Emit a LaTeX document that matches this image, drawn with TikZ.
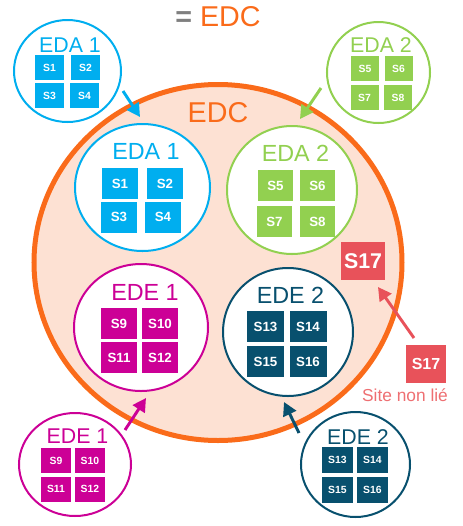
\documentclass[tikz,border=0pt]{standalone}
\usepackage{fontspec}
\setmainfont{Liberation Sans}
\usetikzlibrary{shapes.geometric,arrows.meta}
\definecolor{cblue}{HTML}{00AEEF}
\definecolor{cgreen}{HTML}{92D050}
\definecolor{cmag}{HTML}{CC0096}
\definecolor{cteal}{HTML}{08506E}
\definecolor{corange}{HTML}{FA6B1A}
\definecolor{cpeach}{HTML}{FDE1D3}
\definecolor{cred}{HTML}{E8525A}
\definecolor{clightred}{HTML}{EE6F72}
\definecolor{cgray}{HTML}{7F7F7F}
\newcommand{\fs}[1]{\fontsize{#1}{#1}\selectfont}
\begin{document}
\begin{tikzpicture}[x=0.75pt,y=-0.75pt,
  ring/.style={ellipse, inner sep=0, line width=1.5pt, fill=white},
  sqbig/.style={rectangle, inner sep=0, text=white, font=\bfseries\fs{10}, minimum width=36*0.75pt, minimum height=31*0.75pt},
  sqsmall/.style={rectangle, inner sep=0, text=white, font=\bfseries\fs{7.8}, minimum width=29*0.75pt, minimum height=25*0.75pt},
  lblbig/.style={inner sep=0, font=\fs{17.5}},
  lblsmall/.style={inner sep=0, font=\fs{16}},
  arr/.style={line width=2.2pt, -{Triangle[length=10pt,width=10.5pt]}}]
\useasboundingbox (0,0) rectangle (462,526);

% title
\node[inner sep=0, font=\fs{21.5}, text=corange] (title) at (218,17) {{\color{cgray}\bfseries =} EDC};

% big EDC ellipse
\node[ellipse, inner sep=0, draw=corange, line width=3.75pt, fill=cpeach,
      minimum width=368*0.75pt, minimum height=356*0.75pt] (edc) at (218,262.5) {};
\node[inner sep=0, font=\fs{21.5}, text=corange] (edclbl) at (218,113) {EDC};

% inner EDA 1
\node[ring, draw=cblue, minimum width=135*0.75pt, minimum height=127*0.75pt] (ia1) at (142.5,187.5) {};
\node[lblbig, text=cblue] (ia1l) at (146,151) {EDA 1};
\node[sqbig, fill=cblue] (ia1s1) at (120,183.5) {S1};
\node[sqbig, fill=cblue] (ia1s2) at (165,183.5) {S2};
\node[sqbig, fill=cblue] (ia1s3) at (119,217) {S3};
\node[sqbig, fill=cblue] (ia1s4) at (163,217) {S4};

% inner EDA 2
\node[ring, draw=cgreen, minimum width=130*0.75pt, minimum height=128*0.75pt] (ia2) at (292,190) {};
\node[lblbig, text=cgreen] (ia2l) at (295.5,153) {EDA 2};
\node[sqbig, fill=cgreen, minimum width=35*0.75pt] (ia2s5) at (275.5,185.5) {S5};
\node[sqbig, fill=cgreen, minimum width=35*0.75pt] (ia2s6) at (317.5,185.5) {S6};
\node[sqbig, fill=cgreen, minimum width=35*0.75pt] (ia2s7) at (274.5,221.5) {S7};
\node[sqbig, fill=cgreen, minimum width=35*0.75pt] (ia2s8) at (317.5,221.5) {S8};

% inner EDE 1
\node[ring, draw=cmag, minimum width=134*0.75pt, minimum height=127*0.75pt] (ie1) at (141,327.5) {};
\node[lblbig, text=cmag] (ie1l) at (145,292) {EDE 1};
\node[sqbig, fill=cmag] (ie1s9) at (119,323.5) {S9};
\node[sqbig, fill=cmag] (ie1s10) at (160,323.5) {S10};
\node[sqbig, fill=cmag] (ie1s11) at (119,357.5) {S11};
\node[sqbig, fill=cmag] (ie1s12) at (160,357.5) {S12};

% inner EDE 2
\node[ring, draw=cteal, minimum width=130*0.75pt, minimum height=128*0.75pt] (ie2) at (288,332) {};
\node[lblbig, text=cteal] (ie2l) at (290.5,295) {EDE 2};
\node[sqbig, fill=cteal, minimum width=37*0.75pt] (ie2s13) at (265.5,326.5) {S13};
\node[sqbig, fill=cteal, minimum width=37*0.75pt] (ie2s14) at (308,326.5) {S14};
\node[sqbig, fill=cteal, minimum width=37*0.75pt] (ie2s15) at (265.5,361.5) {S15};
\node[sqbig, fill=cteal, minimum width=37*0.75pt] (ie2s16) at (308,361.5) {S16};

% S17 inside
\node[rectangle, inner sep=0, fill=cred, text=white, font=\bfseries\fs{16},
      minimum width=44*0.75pt, minimum height=38*0.75pt] (s17in) at (363,261) {S17};

% small EDA 1
\node[ring, draw=cblue, minimum width=107*0.75pt, minimum height=102*0.75pt] (sa1) at (67.5,71) {};
\node[lblsmall, text=cblue] (sa1l) at (70,45) {EDA 1};
\node[sqsmall, fill=cblue] (sa1s1) at (49.5,67.5) {S1};
\node[sqsmall, fill=cblue] (sa1s2) at (85.5,67.5) {S2};
\node[sqsmall, fill=cblue] (sa1s3) at (49.5,95.5) {S3};
\node[sqsmall, fill=cblue] (sa1s4) at (84.5,95.5) {S4};

% small EDA 2
\node[ring, draw=cgreen, minimum width=103*0.75pt, minimum height=101*0.75pt] (sa2) at (378.5,72.5) {};
\node[lblsmall, text=cgreen] (sa2l) at (381,45) {EDA 2};
\node[sqsmall, fill=cgreen, minimum width=28*0.75pt] (sa2s5) at (365,68.5) {S5};
\node[sqsmall, fill=cgreen, minimum width=28*0.75pt] (sa2s6) at (398.5,68.5) {S6};
\node[sqsmall, fill=cgreen, minimum width=28*0.75pt] (sa2s7) at (364.5,97.5) {S7};
\node[sqsmall, fill=cgreen, minimum width=28*0.75pt] (sa2s8) at (398,97.5) {S8};

% small EDE 1
\node[ring, draw=cmag, minimum width=112*0.75pt, minimum height=103*0.75pt] (se1) at (75,464.5) {};
\node[lblsmall, text=cmag] (se1l) at (77.5,436) {EDE 1};
\node[sqsmall, fill=cmag, minimum width=30*0.75pt] (se1s9) at (56,460.5) {S9};
\node[sqsmall, fill=cmag, minimum width=30*0.75pt] (se1s10) at (90,460.5) {S10};
\node[sqsmall, fill=cmag, minimum width=30*0.75pt] (se1s11) at (56,489) {S11};
\node[sqsmall, fill=cmag, minimum width=30*0.75pt] (se1s12) at (90,489) {S12};

% small EDE 2
\node[ring, draw=cteal, minimum width=109*0.75pt, minimum height=105*0.75pt] (se2) at (355.5,464.5) {};
\node[lblsmall, text=cteal] (se2l) at (358,437) {EDE 2};
\node[sqsmall, fill=cteal, minimum width=31*0.75pt, minimum height=26*0.75pt] (se2s13) at (337.5,460) {S13};
\node[sqsmall, fill=cteal, minimum width=31*0.75pt, minimum height=26*0.75pt] (se2s14) at (372.5,460) {S14};
\node[sqsmall, fill=cteal, minimum width=31*0.75pt, minimum height=26*0.75pt] (se2s15) at (337.5,489.5) {S15};
\node[sqsmall, fill=cteal, minimum width=31*0.75pt, minimum height=26*0.75pt] (se2s16) at (372.5,489.5) {S16};

% S17 outside
\node[rectangle, inner sep=0, fill=cred, text=white, font=\bfseries\fs{12},
      minimum width=40*0.75pt, minimum height=38*0.75pt] (s17out) at (426,364) {S17};
\node[inner sep=0, text=clightred, font=\fs{13}] (s17lbl) at (405,395) {Site non lié};

% arrow end points
\coordinate (a1s) at (123,91);  \coordinate (a1e) at (140,117);
\coordinate (a2s) at (321,88);  \coordinate (a2e) at (300,119);
\coordinate (e1s) at (125,430); \coordinate (e1e) at (146,398);
\coordinate (e2s) at (299,433); \coordinate (e2e) at (284,402);
\coordinate (rs) at (414,338);  \coordinate (re) at (378,287);

\draw[arr, cblue] (a1s) -- (a1e);
\draw[arr, cgreen] (a2s) -- (a2e);
\draw[arr, cmag] (e1s) -- (e1e);
\draw[arr, cteal] (e2s) -- (e2e);
\draw[arr, cred] (rs) -- (re);
\end{tikzpicture}
\end{document}
